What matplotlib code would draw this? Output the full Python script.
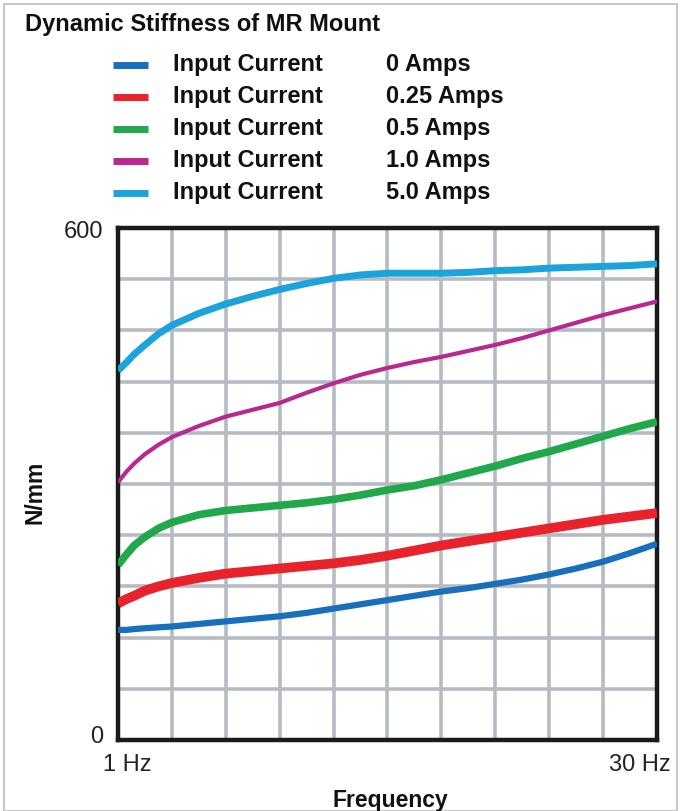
import matplotlib
matplotlib.use('Agg')
import matplotlib.pyplot as plt
from matplotlib.lines import Line2D
from matplotlib.patches import Rectangle

# ==========================================
# DATA
# ==========================================
# x positions in grid divisions: 0 = 1 Hz, 10 = 30 Hz
x_pos = [0, 0.15, 0.3, 0.5, 0.75, 1, 1.5, 2, 2.5, 3, 3.5, 4, 4.5, 5,
         5.5, 6, 6.5, 7, 7.5, 8, 8.5, 9, 9.5, 10]

amps_0 = [129, 129, 130, 131, 132, 133, 136, 139, 142, 145, 149, 154, 159, 164,
          169, 174, 178, 183, 188, 194, 201, 209, 219, 230]
amps_025 = [160, 165, 169, 175, 180, 184, 190, 195, 198, 201, 204, 207, 211, 216,
            222, 228, 233, 238, 243, 248, 253, 258, 262, 266]
amps_05 = [205, 217, 228, 238, 248, 255, 264, 269, 272, 275, 278, 282, 287, 293,
           298, 305, 313, 321, 330, 338, 347, 356, 365, 373]
amps_10 = [302, 314, 324, 335, 346, 355, 368, 379, 387, 395, 407, 418, 428, 436,
           443, 449, 456, 463, 471, 480, 489, 498, 506, 514]
amps_50 = [433, 442, 452, 463, 476, 486, 500, 511, 520, 528, 535, 541, 545, 547,
           547, 547, 548, 550, 551, 553, 554, 555, 556, 558]

series_names = ['0 Amps', '0.25 Amps', '0.5 Amps', '1.0 Amps', '5.0 Amps']
series_colors = ['#1a6fbd', '#e8232b', '#20a84a', '#b8288f', '#1ba3dc']
series_widths = [4.5, 7, 5.5, 3, 5]

x_tick_labels = ['1 Hz', '30 Hz']
y_tick_labels = ['0', '600']

# ==========================================
# FIGURE
# ==========================================
plt.rcParams['font.family'] = ['Liberation Sans', 'DejaVu Sans']

fig = plt.figure(figsize=(6.8, 8.11), dpi=100)
ax = fig.add_axes([118 / 680, 1 - 740 / 811, 539 / 680, 512 / 811])

all_series = [amps_0, amps_025, amps_05, amps_10, amps_50]
for vals, col, lw in zip(all_series, series_colors, series_widths):
    ax.plot(x_pos, vals, color=col, linewidth=lw, solid_capstyle='butt',
            solid_joinstyle='round', zorder=3)

ax.set_xlim(0, 10)
ax.set_ylim(0, 600)
ax.set_xticks(range(0, 11))
ax.set_yticks(range(0, 601, 60))
ax.grid(True, color='#b5bac3', linewidth=2.6, zorder=1)
ax.set_axisbelow(True)
ax.tick_params(length=0, labelleft=False, labelbottom=False)
for sp in ax.spines.values():
    sp.set_linewidth(3.2)
    sp.set_color('#1a1a1a')

# only the end values are labelled
ax.text(-0.028, 0.005, y_tick_labels[0], transform=ax.transAxes, ha='right', va='center',
        fontsize=17, color='#222222')
ax.text(-0.028, 0.992, y_tick_labels[1], transform=ax.transAxes, ha='right', va='center',
        fontsize=17, color='#222222')
ax.text(-0.028, -0.049, x_tick_labels[0], transform=ax.transAxes, ha='left', va='center',
        fontsize=17, color='#222222')
ax.text(1.025, -0.049, x_tick_labels[1], transform=ax.transAxes, ha='right', va='center',
        fontsize=17, color='#222222')

fig.text(390 / 680, 1 - 800 / 811, 'Frequency', ha='center', va='center',
         fontsize=16.5, fontweight='bold', color='#111111')
fig.text(35 / 680, 1 - 492 / 811, 'N/mm', ha='center', va='center', rotation=90,
         fontsize=16.5, fontweight='bold', color='#111111')

# title and legend block
fig.text(25 / 680, 1 - 25 / 811, 'Dynamic Stiffness of MR Mount', ha='left', va='center',
         fontsize=17, fontweight='bold', color='#111111')
row_y = [65, 97, 129, 161, 193]
for name, col, yy in zip(series_names, series_colors, row_y):
    fy = 1 - yy / 811
    fig.add_artist(Line2D([113 / 680, 148 / 680], [fy, fy], color=col, linewidth=5,
                          solid_capstyle='butt'))
    fig.text(173 / 680, fy, 'Input Current', ha='left', va='center',
             fontsize=17, fontweight='bold', color='#111111')
    fig.text(386 / 680, fy, name, ha='left', va='center',
             fontsize=17, fontweight='bold', color='#111111')

# thin outer frame
fig.add_artist(Rectangle((0.006, 0.0), 0.99, 0.995, transform=fig.transFigure,
                         fill=False, edgecolor='#c8c8c8', linewidth=1.5))

plt.savefig('out.png', dpi=100)
